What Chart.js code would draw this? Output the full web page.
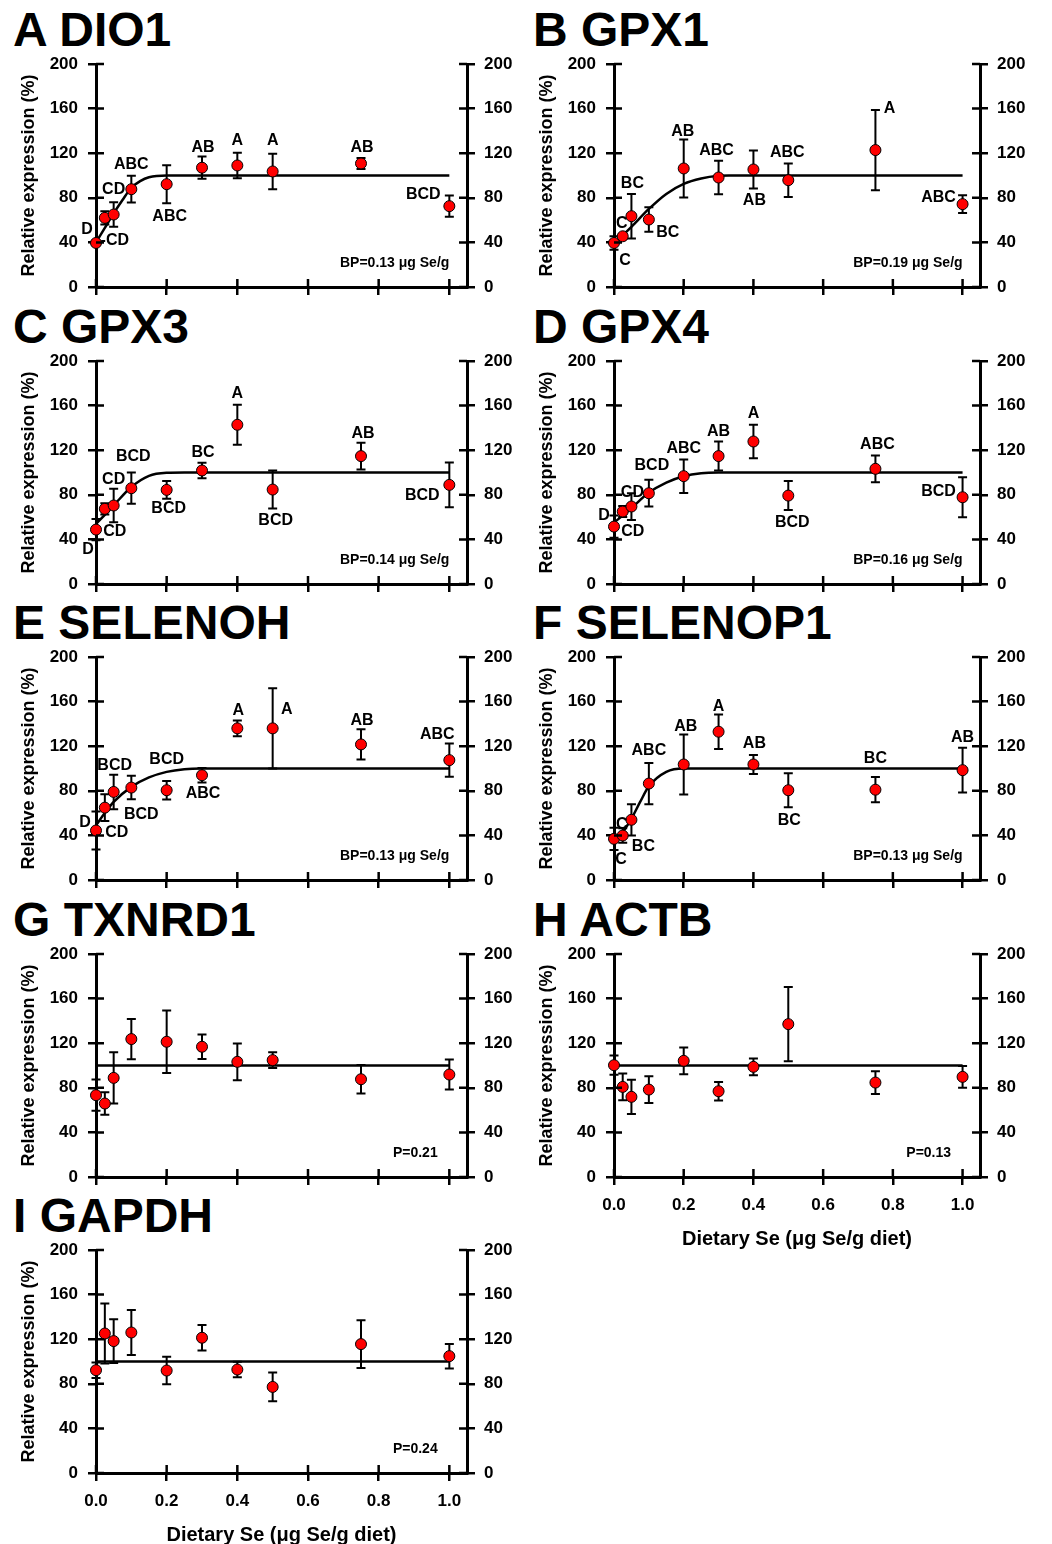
<!DOCTYPE html>
<html>
<head>
<meta charset="utf-8">
<script src="https://cdn.jsdelivr.net/npm/chart.js@4.4.1/dist/chart.umd.min.js"></script>
<style>
  body { margin: 0; background: #fff; }
  #page { position: relative; width: 1052px; height: 1544px; overflow: hidden; font-family: 'Liberation Sans', Arial, sans-serif; }
  .panel-title { position: absolute; font-weight: bold; font-size: 48px; line-height: 48px; color: #000; white-space: nowrap; }
  canvas { position: absolute; }
</style>
</head>
<body>
<div id="page"></div>
<script>
// dietary Se doses (ug Se/g diet), same for every panel
const doses = [0, 0.025, 0.05, 0.1, 0.2, 0.3, 0.4, 0.5, 0.75, 1.0]
const xTicks = [0, 0.2, 0.4, 0.6, 0.8, 1.0]
const yTicks = [0, 40, 80, 120, 160, 200]

// A DIO1
const dio1Mean = [39.5, 62, 65, 87.7, 92.2, 107, 109, 103.6, 110.8, 72.5]
const dio1Sem = [2, 6, 11, 12, 17, 10, 11.5, 16, 5, 9.5]
const dio1Letters = ['D', '-CD', 'CD', 'ABC', 'ABC', 'AB', 'A', 'A', 'AB', 'BCD']
const dio1FitX = [0, 0.025, 0.05, 0.075, 0.1, 0.125, 0.15, 0.2, 1.0]
const dio1FitY = [40, 53, 66, 78, 89, 95, 98.5, 100, 100]

// B GPX1
const gpx1Mean = [39.5, 45.5, 63.5, 60.5, 106.3, 98.2, 105.4, 95.8, 122.8, 74.3]
const gpx1Sem = [6, 2, 20, 11, 26, 15, 17, 15, 36, 8]
const gpx1Letters = ['C', 'C', 'BC', 'BC', 'AB', 'ABC', 'AB', 'ABC', 'A', 'ABC']
const gpx1FitX = [0, 0.05, 0.1, 0.15, 0.2, 0.25, 0.3, 0.33, 1.0]
const gpx1FitY = [39, 54, 70, 83.5, 92.5, 97.3, 99.7, 100, 100]

// C GPX3
const gpx3Mean = [48.8, 67.4, 70.4, 85.9, 84.4, 101.8, 142.8, 84.7, 114.7, 88.9]
const gpx3Sem = [9.5, 5, 15, 14, 8, 7, 18, 17, 12, 20]
const gpx3Letters = ['D', 'CD', 'CD', 'BCD', 'BCD', 'BC', 'A', 'BCD', 'AB', 'BCD']
const gpx3FitX = [0, 0.025, 0.05, 0.1, 0.15, 0.2, 0.25, 1.0]
const gpx3FitY = [54, 62, 70.5, 87, 97, 99.7, 100, 100]

// D GPX4
const gpx4Mean = [51.5, 65, 69.5, 81.4, 96.7, 114.7, 127.8, 79.3, 103.3, 77.8]
const gpx4Sem = [10, 5, 12, 12, 15, 13, 15, 13, 12, 18]
const gpx4Letters = ['D', 'CD', 'CD', 'BCD', 'ABC', 'AB', 'A', 'BCD', 'ABC', 'BCD']
const gpx4FitX = [0, 0.05, 0.1, 0.15, 0.2, 0.25, 0.3, 1.0]
const gpx4FitY = [55, 68, 82, 91, 96.7, 99.4, 100, 100]

// E SELENOH
const selenohMean = [44.4, 64.9, 79, 82.9, 80.5, 94, 136, 136, 121.6, 107.5]
const selenohSem = [17, 12, 15.5, 10.5, 8.4, 6.5, 7, 36, 13.5, 15]
const selenohLetters = ['D', 'CD', 'BCD', 'BCD', 'BCD', 'ABC', 'A', 'A', 'AB', 'ABC']
const selenohFitX = [0, 0.025, 0.05, 0.1, 0.15, 0.2, 0.25, 0.3, 1.0]
const selenohFitY = [49, 60, 70, 83.5, 92, 97, 99.4, 100, 100]

// F SELENOP1
const selenop1Mean = [36.9, 39.9, 54, 86.5, 103.6, 133, 103.6, 80.5, 81, 98.5]
const selenop1Sem = [10, 6.5, 14, 18.5, 27, 15.5, 8.5, 15.3, 11.3, 20]
const selenop1Letters = ['C', 'C', 'BC', 'ABC', 'AB', 'A', 'AB', 'BC', 'BC', 'AB']
const selenop1FitX = [0, 0.025, 0.05, 0.075, 0.1, 0.15, 0.2, 1.0]
const selenop1FitY = [36, 43, 55, 70, 84, 97, 100, 100]

// G TXNRD1
const txnrd1Mean = [73.4, 65.9, 88.9, 123.7, 121.3, 116.8, 103.3, 104.8, 87.7, 91.9]
const txnrd1Sem = [14, 10, 23, 18, 28, 11, 16.5, 7, 12.7, 13.5]

// H ACTB
const actbMean = [100.3, 80.8, 71.9, 78.4, 104.2, 76.9, 98.8, 137.1, 84.7, 89.8]
const actbSem = [8.7, 12, 15.3, 12, 12, 8.2, 7.5, 33.4, 10.2, 9.8]

// I GAPDH
const gapdhMean = [92.2, 125.1, 118.3, 126.0, 91.9, 121.3, 92.8, 77.2, 115.6, 104.8]
const gapdhSem = [7, 27, 19.7, 20.2, 12.3, 11.5, 7, 12.9, 21.4, 11]

// no Se effect -> flat line at 100 %
const flatFitX = [0, 1.0]
const flatFitY = [100, 100]

// letter placement, pixel offsets from each point (layout only)
const dio1Offsets = [[-9, -13], [10, 23], [0, -25], [0, -25], [3, 32], [1, -20], [0, -25], [0, -31], [1, -16], [-26, -12]]
const gpx1Offsets = [[11, 18], [-1, -13], [1, -33], [19, 13], [-1, -37], [-2, -27], [1, 31], [-1, -28], [14, -41], [-24, -7]]
const gpx3Offsets = [[-8, 20], [10, 23], [0, -26], [2, -32], [2, 19], [1, -18], [0, -31], [3, 31], [2, -23], [-27, 11]]
const gpx4Offsets = [[-10, -11], [10, 20], [1, -14], [3, -28], [0, -28], [0, -25], [0, -28], [4, 27], [2, -24], [-24, -6]]
const selenohOffsets = [[-11, -8], [12, 25], [1, -26], [10, 27], [0, -31], [1, 18], [1, -18], [14, -19], [1, -24], [-12, -26]]
const selenop1Offsets = [[7, 21], [-1, -11], [12, 27], [0, -33], [2, -38], [0, -25], [1, -21], [1, 30], [0, -31], [0, -33]]

const FONT = "'Liberation Sans', Arial, sans-serif"
const rowTops = [64, 361, 657, 954, 1250]   // pixel of y=200 for each row
const plotH = 223
const page = document.getElementById('page')

const panels = [
    {title: 'A DIO1', col: 0, row: 0, mean: dio1Mean, sem: dio1Sem, letters: dio1Letters, offsets: dio1Offsets, fitX: dio1FitX, fitY: dio1FitY, note: 'BP=0.13 \u03bcg Se/g', noteAt: 1.0},
    {title: 'B GPX1', col: 1, row: 0, mean: gpx1Mean, sem: gpx1Sem, letters: gpx1Letters, offsets: gpx1Offsets, fitX: gpx1FitX, fitY: gpx1FitY, note: 'BP=0.19 \u03bcg Se/g', noteAt: 1.0},
    {title: 'C GPX3', col: 0, row: 1, mean: gpx3Mean, sem: gpx3Sem, letters: gpx3Letters, offsets: gpx3Offsets, fitX: gpx3FitX, fitY: gpx3FitY, note: 'BP=0.14 \u03bcg Se/g', noteAt: 1.0},
    {title: 'D GPX4', col: 1, row: 1, mean: gpx4Mean, sem: gpx4Sem, letters: gpx4Letters, offsets: gpx4Offsets, fitX: gpx4FitX, fitY: gpx4FitY, note: 'BP=0.16 \u03bcg Se/g', noteAt: 1.0},
    {title: 'E SELENOH', col: 0, row: 2, mean: selenohMean, sem: selenohSem, letters: selenohLetters, offsets: selenohOffsets, fitX: selenohFitX, fitY: selenohFitY, note: 'BP=0.13 \u03bcg Se/g', noteAt: 1.0},
    {title: 'F SELENOP1', col: 1, row: 2, mean: selenop1Mean, sem: selenop1Sem, letters: selenop1Letters, offsets: selenop1Offsets, fitX: selenop1FitX, fitY: selenop1FitY, note: 'BP=0.13 \u03bcg Se/g', noteAt: 1.0},
    {title: 'G TXNRD1', col: 0, row: 3, mean: txnrd1Mean, sem: txnrd1Sem, fitX: flatFitX, fitY: flatFitY, note: 'P=0.21', noteAt: 0.967},
    {title: 'H ACTB', col: 1, row: 3, mean: actbMean, sem: actbSem, fitX: flatFitX, fitY: flatFitY, note: 'P=0.13', noteAt: 0.967, showX: true},
    {title: 'I GAPDH', col: 0, row: 4, mean: gapdhMean, sem: gapdhSem, fitX: flatFitX, fitY: flatFitY, note: 'P=0.24', noteAt: 0.967, showX: true}
]

// error bars, letters, inner tick halves and the note
const panelExtras = {
    id: 'panelExtras',
    beforeDatasetsDraw(chart) {
        const ctx = chart.ctx
        const xs = chart.scales.x
        const ys = chart.scales.y
        const ds = chart.data.datasets[0]
        ctx.save()
        ctx.strokeStyle = '#000'
        ctx.lineWidth = 2
        ds.data.forEach((p, i) => {
            const px = xs.getPixelForValue(p.x)
            const top = ys.getPixelForValue(p.y + ds.sem[i])
            const bot = ys.getPixelForValue(p.y - ds.sem[i])
            ctx.beginPath()
            ctx.moveTo(px, top); ctx.lineTo(px, bot)
            ctx.moveTo(px - 4.5, top); ctx.lineTo(px + 4.5, top)
            ctx.moveTo(px - 4.5, bot); ctx.lineTo(px + 4.5, bot)
            ctx.stroke()
        })
        ctx.restore()
    },
    afterDatasetsDraw(chart, args, opts) {
        const ctx = chart.ctx
        const xs = chart.scales.x
        const ys = chart.scales.y
        const ds = chart.data.datasets[0]
        ctx.save()
        ctx.fillStyle = '#000'
        ctx.textAlign = 'center'
        ctx.textBaseline = 'middle'
        ctx.font = 'bold 16px ' + FONT
        if (ds.letters) {
            ds.data.forEach((p, i) => {
                const off = ds.offsets[i]
                ctx.fillText(ds.letters[i], xs.getPixelForValue(p.x) + off[0], ys.getPixelForValue(p.y) + off[1])
            })
        }
        ctx.font = 'bold 14px ' + FONT
        ctx.textAlign = 'right'
        ctx.fillText(opts.note, xs.getPixelForValue(opts.noteAt), ys.getPixelForValue(21))
        ctx.restore()
    },
    afterDraw(chart) {
        const ctx = chart.ctx
        const {left, right, bottom} = chart.chartArea
        ctx.save()
        ctx.strokeStyle = '#000'
        ctx.lineWidth = 2.5
        ctx.beginPath()
        xTicks.forEach(v => {
            const px = chart.scales.x.getPixelForValue(v)
            ctx.moveTo(px, bottom); ctx.lineTo(px, bottom - 8)
        })
        yTicks.forEach(v => {
            const py = chart.scales.y.getPixelForValue(v)
            ctx.moveTo(left, py); ctx.lineTo(left + 8, py)
            ctx.moveTo(right, py); ctx.lineTo(right - 8, py)
        })
        ctx.stroke()
        ctx.restore()
    }
}

// fixed scale box sizes so every plot area lands where the figure has it
function fixSize(s, w, h) {
    if (w !== undefined) s.width = w
    if (h !== undefined) s.height = h
    s.paddingTop = 0
    s.paddingBottom = 0
    s.paddingLeft = 0
    s.paddingRight = 0
}

function buildPanel(p) {
    const canvasLeft = p.col ? 518 : 0
    const xHeight = p.showX ? 78 : 12
    const y2Width = p.col ? 58 : 53

    const title = document.createElement('div')
    title.className = 'panel-title'
    title.textContent = p.title
    title.style.left = (p.col ? 533 : 13) + 'px'
    title.style.top = (rowTops[p.row] - 58) + 'px'
    page.appendChild(title)

    const canvas = document.createElement('canvas')
    canvas.width = 520
    canvas.height = 14 + plotH + xHeight
    canvas.style.left = canvasLeft + 'px'
    canvas.style.top = (rowTops[p.row] - 14) + 'px'
    page.appendChild(canvas)

    const gridOpts = {drawOnChartArea: false, drawTicks: true, tickLength: 8, color: '#000', lineWidth: 2.5}
    const borderOpts = {display: true, color: '#000', width: 3}
    const tickFont = {family: FONT, size: 17, weight: 'bold'}

    new Chart(canvas, {
        type: 'scatter',
        data: {
            datasets: [{
                type: 'scatter',
                data: doses.map((d, i) => ({x: d, y: p.mean[i]})),
                sem: p.sem,
                letters: p.letters,
                offsets: p.offsets,
                pointRadius: 5.5,
                pointBackgroundColor: '#ff0000',
                pointBorderColor: '#000',
                pointBorderWidth: 1,
                clip: false,
                order: 1
            }, {
                type: 'line',
                data: p.fitX.map((x, i) => ({x: x, y: p.fitY[i]})),
                borderColor: '#000',
                borderWidth: 2.5,
                pointRadius: 0,
                fill: false,
                cubicInterpolationMode: 'monotone',
                clip: false,
                order: 2
            }]
        },
        options: {
            responsive: false,
            animation: false,
            events: [],
            layout: {padding: {top: 14, left: 0, right: 0, bottom: 0}},
            plugins: {
                legend: {display: false},
                tooltip: {enabled: false},
                panelExtras: {note: p.note, noteAt: p.noteAt}
            },
            scales: {
                x: {
                    type: 'linear',
                    position: 'bottom',
                    min: 0,
                    max: 1.05,
                    afterBuildTicks: s => { s.ticks = xTicks.map(v => ({value: v})) },
                    afterFit: s => fixSize(s, undefined, xHeight),
                    grid: gridOpts,
                    border: borderOpts,
                    ticks: {
                        display: !!p.showX,
                        autoSkip: false,
                        maxRotation: 0,
                        color: '#000',
                        font: tickFont,
                        padding: 10,
                        callback: v => v.toFixed(1)
                    },
                    title: {
                        display: !!p.showX,
                        text: 'Dietary Se (\u03bcg Se/g diet)',
                        color: '#000',
                        font: {family: FONT, size: 20, weight: 'bold'},
                        padding: {top: 0, bottom: 4}
                    }
                },
                y: {
                    type: 'linear',
                    position: 'left',
                    min: 0,
                    max: 200,
                    afterBuildTicks: s => { s.ticks = yTicks.map(v => ({value: v})) },
                    afterFit: s => fixSize(s, 96),
                    grid: gridOpts,
                    border: borderOpts,
                    ticks: {color: '#000', font: tickFont, padding: 10},
                    title: {
                        display: true,
                        text: 'Relative expression (%)',
                        color: '#000',
                        font: {family: FONT, size: 18, weight: 'bold'},
                        padding: {top: 18, bottom: 0}
                    }
                },
                y2: {
                    type: 'linear',
                    position: 'right',
                    min: 0,
                    max: 200,
                    afterBuildTicks: s => { s.ticks = yTicks.map(v => ({value: v})) },
                    afterFit: s => fixSize(s, y2Width),
                    grid: gridOpts,
                    border: borderOpts,
                    ticks: {color: '#000', font: tickFont, padding: 9}
                }
            }
        },
        plugins: [panelExtras]
    })
}

panels.forEach(buildPanel)
</script>
</body>
</html>
